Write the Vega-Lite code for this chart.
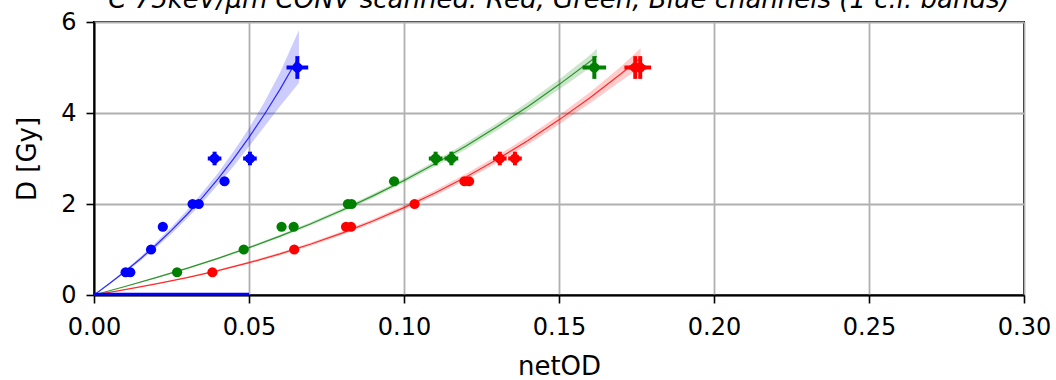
{
  "$schema": "https://vega.github.io/schema/vega-lite/v6.json",
  "autosize": "none",
  "padding": {"left": 94, "top": 22, "right": 32, "bottom": 85},
  "width": 930,
  "height": 273,
  "background": "white",
  "title": {
    "text": "C 75keV/μm CONV scanned: Red, Green, Blue channels (1 c.i. bands)",
    "font": "DejaVu Sans",
    "fontSize": 26,
    "fontStyle": "italic",
    "fontWeight": "normal",
    "color": "black",
    "anchor": "middle",
    "baseline": "alphabetic",
    "offset": 0,
    "dy": 24
  },
  "config": {
    "view": {"stroke": "black", "strokeWidth": 2},
    "axis": {
      "labelFont": "DejaVu Sans",
      "labelFontSize": 24,
      "labelColor": "black",
      "titleFont": "DejaVu Sans",
      "titleFontSize": 26,
      "titleFontWeight": "normal",
      "titleColor": "black",
      "domainColor": "black",
      "domainWidth": 2,
      "tickColor": "black",
      "tickWidth": 1.6,
      "tickSize": 8,
      "gridColor": "#b0b0b0",
      "gridWidth": 1.8
    }
  },
  "datasets": {
    "fit": [
      {"ch": "Blue", "x": 0, "D": 0, "lo": 0, "hi": 0},
      {"ch": "Blue", "x": 0.005, "D": 0.253, "lo": 0.238, "hi": 0.268},
      {"ch": "Blue", "x": 0.01, "D": 0.518, "lo": 0.488, "hi": 0.548},
      {"ch": "Blue", "x": 0.015, "D": 0.798, "lo": 0.753, "hi": 0.843},
      {"ch": "Blue", "x": 0.02, "D": 1.099, "lo": 1.039, "hi": 1.159},
      {"ch": "Blue", "x": 0.025, "D": 1.421, "lo": 1.346, "hi": 1.496},
      {"ch": "Blue", "x": 0.03, "D": 1.77, "lo": 1.68, "hi": 1.86},
      {"ch": "Blue", "x": 0.035, "D": 2.146, "lo": 2.036, "hi": 2.256},
      {"ch": "Blue", "x": 0.04, "D": 2.553, "lo": 2.423, "hi": 2.683},
      {"ch": "Blue", "x": 0.045, "D": 2.992, "lo": 2.832, "hi": 3.152},
      {"ch": "Blue", "x": 0.05, "D": 3.465, "lo": 3.265, "hi": 3.665},
      {"ch": "Blue", "x": 0.055, "D": 3.973, "lo": 3.703, "hi": 4.243},
      {"ch": "Blue", "x": 0.06, "D": 4.52, "lo": 4.15, "hi": 4.89},
      {"ch": "Blue", "x": 0.0661, "D": 5.241, "lo": 4.661, "hi": 5.821},
      {"ch": "Green", "x": 0, "D": 0, "lo": 0, "hi": 0},
      {"ch": "Green", "x": 0.01, "D": 0.187, "lo": 0.179, "hi": 0.195},
      {"ch": "Green", "x": 0.02, "D": 0.381, "lo": 0.369, "hi": 0.393},
      {"ch": "Green", "x": 0.03, "D": 0.586, "lo": 0.57, "hi": 0.602},
      {"ch": "Green", "x": 0.04, "D": 0.806, "lo": 0.786, "hi": 0.826},
      {"ch": "Green", "x": 0.05, "D": 1.041, "lo": 1.016, "hi": 1.066},
      {"ch": "Green", "x": 0.06, "D": 1.294, "lo": 1.264, "hi": 1.324},
      {"ch": "Green", "x": 0.07, "D": 1.567, "lo": 1.532, "hi": 1.602},
      {"ch": "Green", "x": 0.08, "D": 1.861, "lo": 1.821, "hi": 1.901},
      {"ch": "Green", "x": 0.09, "D": 2.178, "lo": 2.133, "hi": 2.223},
      {"ch": "Green", "x": 0.1, "D": 2.518, "lo": 2.468, "hi": 2.568},
      {"ch": "Green", "x": 0.11, "D": 2.884, "lo": 2.824, "hi": 2.944},
      {"ch": "Green", "x": 0.12, "D": 3.276, "lo": 3.206, "hi": 3.346},
      {"ch": "Green", "x": 0.13, "D": 3.696, "lo": 3.616, "hi": 3.776},
      {"ch": "Green", "x": 0.14, "D": 4.145, "lo": 4.05, "hi": 4.24},
      {"ch": "Green", "x": 0.15, "D": 4.624, "lo": 4.514, "hi": 4.734},
      {"ch": "Green", "x": 0.16, "D": 5.134, "lo": 4.994, "hi": 5.274},
      {"ch": "Green", "x": 0.1622, "D": 5.25, "lo": 5.09, "hi": 5.41},
      {"ch": "Red", "x": 0, "D": 0, "lo": 0, "hi": 0},
      {"ch": "Red", "x": 0.01, "D": 0.117, "lo": 0.109, "hi": 0.125},
      {"ch": "Red", "x": 0.02, "D": 0.243, "lo": 0.231, "hi": 0.255},
      {"ch": "Red", "x": 0.03, "D": 0.382, "lo": 0.366, "hi": 0.398},
      {"ch": "Red", "x": 0.04, "D": 0.537, "lo": 0.517, "hi": 0.557},
      {"ch": "Red", "x": 0.05, "D": 0.71, "lo": 0.685, "hi": 0.735},
      {"ch": "Red", "x": 0.06, "D": 0.904, "lo": 0.874, "hi": 0.934},
      {"ch": "Red", "x": 0.07, "D": 1.12, "lo": 1.085, "hi": 1.155},
      {"ch": "Red", "x": 0.08, "D": 1.36, "lo": 1.32, "hi": 1.4},
      {"ch": "Red", "x": 0.09, "D": 1.626, "lo": 1.581, "hi": 1.671},
      {"ch": "Red", "x": 0.1, "D": 1.92, "lo": 1.87, "hi": 1.97},
      {"ch": "Red", "x": 0.11, "D": 2.242, "lo": 2.182, "hi": 2.302},
      {"ch": "Red", "x": 0.12, "D": 2.595, "lo": 2.525, "hi": 2.665},
      {"ch": "Red", "x": 0.13, "D": 2.98, "lo": 2.9, "hi": 3.06},
      {"ch": "Red", "x": 0.14, "D": 3.397, "lo": 3.307, "hi": 3.487},
      {"ch": "Red", "x": 0.15, "D": 3.849, "lo": 3.749, "hi": 3.949},
      {"ch": "Red", "x": 0.16, "D": 4.337, "lo": 4.217, "hi": 4.457},
      {"ch": "Red", "x": 0.17, "D": 4.861, "lo": 4.701, "hi": 5.021},
      {"ch": "Red", "x": 0.1763, "D": 5.211, "lo": 5.001, "hi": 5.421}
    ],
    "pts": [
      {"ch": "Blue", "x": 0.0102, "D": 0.5},
      {"ch": "Blue", "x": 0.0117, "D": 0.5},
      {"ch": "Blue", "x": 0.0184, "D": 1.0},
      {"ch": "Blue", "x": 0.0222, "D": 1.5},
      {"ch": "Blue", "x": 0.0318, "D": 2.0},
      {"ch": "Blue", "x": 0.0338, "D": 2.0},
      {"ch": "Blue", "x": 0.0421, "D": 2.5},
      {"ch": "Green", "x": 0.0268, "D": 0.5},
      {"ch": "Green", "x": 0.0483, "D": 1.0},
      {"ch": "Green", "x": 0.0605, "D": 1.5},
      {"ch": "Green", "x": 0.0644, "D": 1.5},
      {"ch": "Green", "x": 0.0819, "D": 2.0},
      {"ch": "Green", "x": 0.0831, "D": 2.0},
      {"ch": "Green", "x": 0.0968, "D": 2.5},
      {"ch": "Red", "x": 0.0382, "D": 0.5},
      {"ch": "Red", "x": 0.0646, "D": 1.0},
      {"ch": "Red", "x": 0.0813, "D": 1.5},
      {"ch": "Red", "x": 0.0829, "D": 1.5},
      {"ch": "Red", "x": 0.1034, "D": 2.0},
      {"ch": "Red", "x": 0.1195, "D": 2.5},
      {"ch": "Red", "x": 0.121, "D": 2.5}
    ],
    "eb": [
      {"ch": "Blue", "x": 0.0389, "D": 3, "x_lo": 0.0367, "x_hi": 0.0411, "D_lo": 2.85, "D_hi": 3.15},
      {"ch": "Blue", "x": 0.0503, "D": 3, "x_lo": 0.0481, "x_hi": 0.0525, "D_lo": 2.85, "D_hi": 3.15},
      {"ch": "Blue", "x": 0.0656, "D": 5, "x_lo": 0.0621, "x_hi": 0.0691, "D_lo": 4.75, "D_hi": 5.25},
      {"ch": "Green", "x": 0.1102, "D": 3, "x_lo": 0.108, "x_hi": 0.1124, "D_lo": 2.85, "D_hi": 3.15},
      {"ch": "Green", "x": 0.1153, "D": 3, "x_lo": 0.1131, "x_hi": 0.1175, "D_lo": 2.85, "D_hi": 3.15},
      {"ch": "Green", "x": 0.1614, "D": 5, "x_lo": 0.1576, "x_hi": 0.1652, "D_lo": 4.75, "D_hi": 5.25},
      {"ch": "Red", "x": 0.1309, "D": 3, "x_lo": 0.1287, "x_hi": 0.1331, "D_lo": 2.85, "D_hi": 3.15},
      {"ch": "Red", "x": 0.1358, "D": 3, "x_lo": 0.1336, "x_hi": 0.138, "D_lo": 2.85, "D_hi": 3.15},
      {"ch": "Red", "x": 0.1746, "D": 5, "x_lo": 0.1711, "x_hi": 0.1781, "D_lo": 4.75, "D_hi": 5.25},
      {"ch": "Red", "x": 0.1762, "D": 5, "x_lo": 0.1727, "x_hi": 0.1797, "D_lo": 4.75, "D_hi": 5.25}
    ],
    "base": [
      {"ch": "Blue", "x": 0, "x2": 0.05, "D": 0}
    ]
  },
  "encoding": {
    "x": {"field": "x", "type": "quantitative", "scale": {"domain": [0, 0.3], "nice": false},
      "axis": {"title": "netOD", "values": [0, 0.05, 0.1, 0.15, 0.2, 0.25, 0.3], "format": ".2f", "labelPadding": 12, "titlePadding": 14, "labelFlush": false}},
    "y": {"field": "D", "type": "quantitative", "scale": {"domain": [0, 6], "nice": false},
      "axis": {"title": "D [Gy]", "values": [0, 2, 4, 6], "labelPadding": 10, "titlePadding": 20}},
    "color": {"field": "ch", "type": "nominal", "scale": {"domain": ["Red", "Green", "Blue"], "range": ["#ff0000", "#008000", "#0000ff"]}, "legend": null}
  },
  "layer": [
    {
      "data": {"name": "fit"},
      "mark": {"type": "area", "opacity": 0.2},
      "encoding": {"y": {"field": "lo", "type": "quantitative"}, "y2": {"field": "hi"}}
    },
    {
      "data": {"name": "fit"},
      "mark": {"type": "line", "strokeWidth": 1.2, "opacity": 0.8}
    },
    {
      "data": {"name": "base"},
      "mark": {"type": "rule", "strokeWidth": 2.5, "yOffset": -1},
      "encoding": {"x2": {"field": "x2"}}
    },
    {
      "data": {"name": "eb"},
      "mark": {"type": "rule", "strokeWidth": 4},
      "encoding": {"x": {"field": "x_lo", "type": "quantitative"}, "x2": {"field": "x_hi"}}
    },
    {
      "data": {"name": "eb"},
      "mark": {"type": "rule", "strokeWidth": 4},
      "encoding": {"y": {"field": "D_lo", "type": "quantitative"}, "y2": {"field": "D_hi"}}
    },
    {
      "data": {"name": "eb"},
      "mark": {"type": "point", "shape": "circle", "filled": true, "opacity": 1, "size": 105}
    },
    {
      "data": {"name": "pts"},
      "mark": {"type": "point", "shape": "circle", "filled": true, "opacity": 1, "size": 105}
    }
  ]
}
